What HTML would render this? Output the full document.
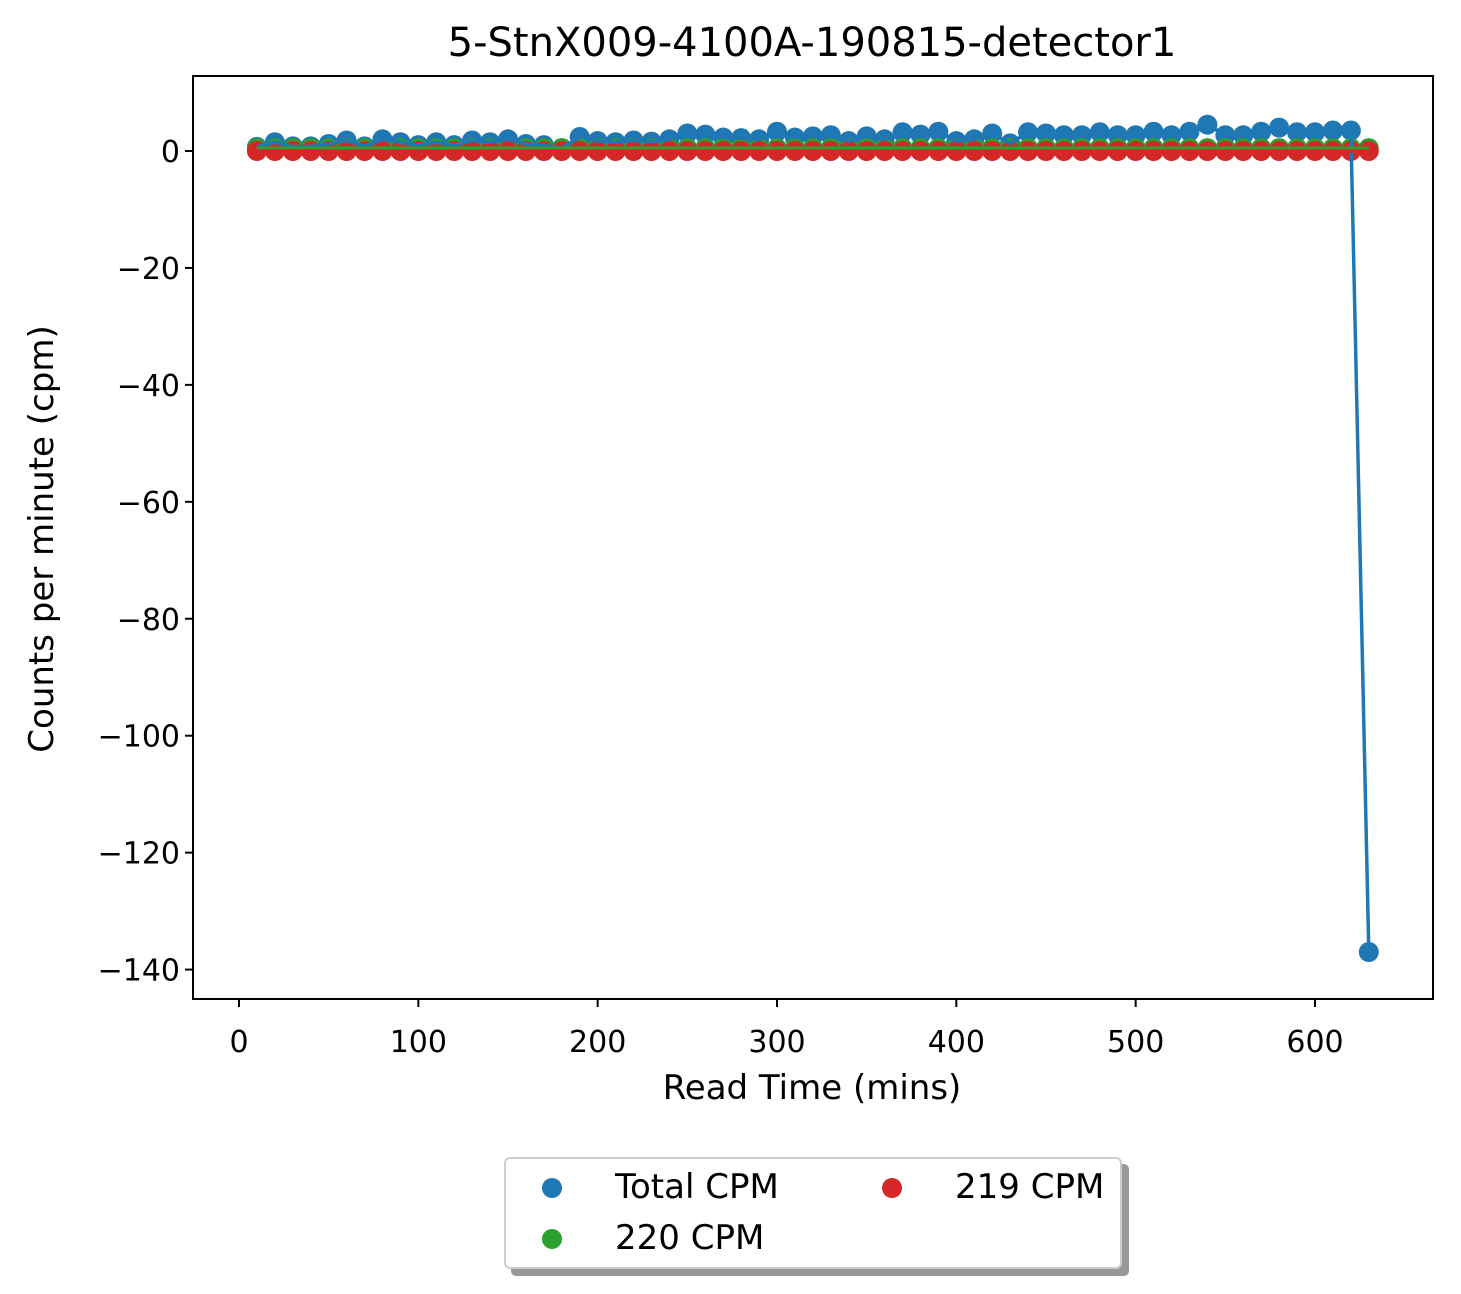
<!DOCTYPE html>
<html><head><meta charset="utf-8"><style>
body{margin:0;background:#fff;}
svg{display:block;font-family:"DejaVu Sans","Liberation Sans",sans-serif;}
</style></head><body>
<svg id="chart" width="1461" height="1294" xmlns="http://www.w3.org/2000/svg">
<rect width="1461" height="1294" fill="#fff"/>
<text x="812" y="56" font-size="40" text-anchor="middle">5-StnX009-4100A-190815-detector1</text>
<g id="plot"></g>
<rect x="193" y="76" width="1240" height="923" fill="none" stroke="#000" stroke-width="2"/>
<g id="axes"></g>
<text x="812" y="1099" font-size="34" text-anchor="middle">Read Time (mins)</text>
<text transform="translate(53,539) rotate(-90)" font-size="34" text-anchor="middle">Counts per minute (cpm)</text>
<g>
<rect x="511" y="1164" width="618" height="112" rx="5" fill="#999"/>
<rect x="505" y="1158" width="616" height="110" rx="5" fill="#fff" stroke="#ccc" stroke-width="2"/>
<circle cx="552" cy="1188" r="10" fill="#1f77b4"/>
<text x="615" y="1198" font-size="34">Total CPM</text>
<circle cx="552" cy="1239" r="10" fill="#2ca02c"/>
<text x="615" y="1249" font-size="34">220 CPM</text>
<circle cx="892" cy="1188" r="10" fill="#d62728"/>
<text x="955" y="1198" font-size="34">219 CPM</text>
</g>
</svg>
<script>
const times=[10,20,30,40,50,60,70,80,90,100,110,120,130,140,150,160,170,180,190,200,210,220,230,240,250,260,270,280,290,300,310,320,330,340,350,360,370,380,390,400,410,420,430,440,450,460,470,480,490,500,510,520,530,540,550,560,570,580,590,600,610,620,630];
const totalCpm=[0.7,1.5,0.8,0.8,1.2,1.8,0.8,2,1.5,1,1.5,1,1.8,1.5,2,1.2,1,0.5,2.4,1.7,1.5,1.8,1.6,2,3,2.8,2.3,2.2,2,3.3,2.3,2.5,2.7,1.7,2.5,2,3.2,2.8,3.3,1.7,2,3,1.3,3.2,3,2.7,2.7,3.2,2.7,2.7,3.3,2.7,3.3,4.5,2.7,2.7,3.3,4,3.2,3.2,3.5,3.5,-137];
const cpm220=times.map(()=>0.5);
const cpm219=times.map(()=>0);
const xTicks=[0,100,200,300,400,500,600];
const yTicks=[0,-20,-40,-60,-80,-100,-120,-140];
const NS='http://www.w3.org/2000/svg';
const xs=v=>239+v*(1315-239)/600;
const ys=v=>151-v*5.847;
const plot=document.getElementById('plot'),axes=document.getElementById('axes');
function mk(tag,attrs,parent){const e=document.createElementNS(NS,tag);for(const k in attrs)e.setAttribute(k,attrs[k]);parent.appendChild(e);return e;}
const series=[[totalCpm,'#1f77b4','total'],[cpm220,'#2ca02c','220'],[cpm219,'#d62728','219']];
series.forEach(([d,c,n])=>{d.forEach((v,i)=>{const p=mk('circle',{cx:xs(times[i]),cy:ys(v),r:10,fill:c},plot);

});});
series.forEach(([d,c,n])=>{const l=mk('polyline',{points:d.map((v,i)=>xs(times[i])+','+ys(v)).join(' '),fill:'none',stroke:c,'stroke-width':3.5},plot);

});
xTicks.forEach(t=>{const x=xs(t);mk('line',{x1:x,x2:x,y1:999,y2:1007,stroke:'#000','stroke-width':2},axes);
const tx=mk('text',{x:x,y:1052,'font-size':30,'text-anchor':'middle'},axes);tx.textContent=t;

});
yTicks.forEach(t=>{const y=ys(t);mk('line',{x1:185,x2:193,y1:y,y2:y,stroke:'#000','stroke-width':2},axes);
const tx=mk('text',{x:180,y:y+11,'font-size':30,'text-anchor':'end'},axes);tx.textContent=t===0?'0':'\u2212'+(-t);

});
</script>
</body></html>
